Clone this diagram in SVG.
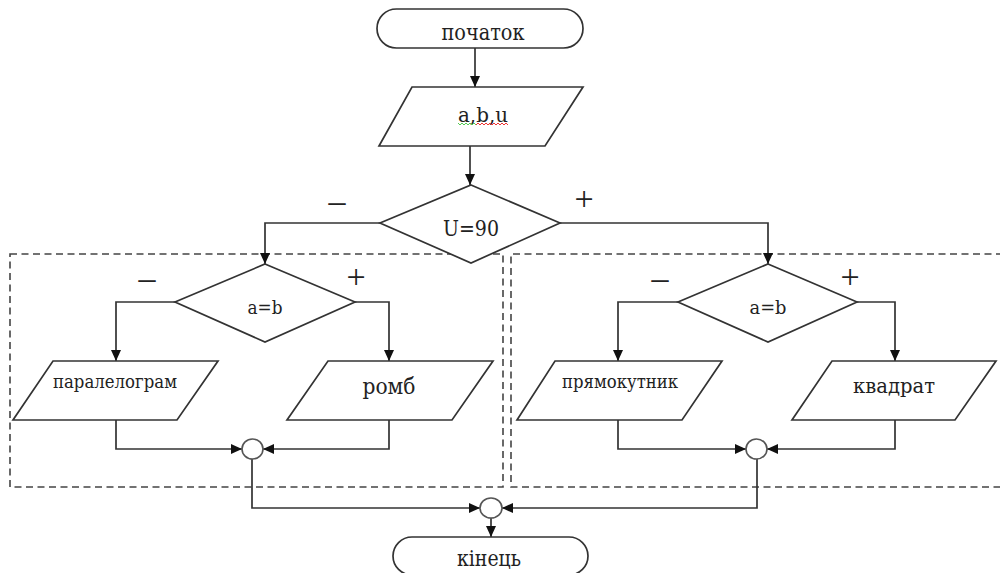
<svg xmlns="http://www.w3.org/2000/svg" width="1000" height="573" viewBox="0 0 1000 573">
<style>
.s{fill:#fff;stroke:#333;stroke-width:1.7}
.c{fill:none;stroke:#333;stroke-width:1.7}
.d{fill:none;stroke:#444;stroke-width:1.6;stroke-dasharray:7 4.5}
.t{font-family:"DejaVu Serif","Liberation Serif",serif;fill:#222;text-anchor:middle}
.p{font-family:"Liberation Serif","DejaVu Serif",serif;fill:#222;text-anchor:middle;font-size:34px}
.j{fill:#fff;stroke:#555;stroke-width:1.6}
</style>
<defs>
<marker id="ah" markerUnits="userSpaceOnUse" markerWidth="11" markerHeight="10" refX="11" refY="5" orient="auto" viewBox="0 0 11 10">
<path d="M0,0 L11,5 L0,10 z" fill="#111"/>
</marker>
</defs>
<rect width="1000" height="573" fill="#fff"/>
<g id="groups">
<rect class="d" x="10" y="254" width="493" height="233"/>
<path class="d" d="M1003,254 H511 V487 H1003"/>
</g>
<g id="connectors">
<path class="c" d="M475,48 V87" marker-end="url(#ah)"/>
<path class="c" d="M470,146 V185" marker-end="url(#ah)"/>
<path class="c" d="M380,223 H265 V264" marker-end="url(#ah)"/>
<path class="c" d="M560,223 H768 V264" marker-end="url(#ah)"/>
<path class="c" d="M175,302 H116 V361" marker-end="url(#ah)"/>
<path class="c" d="M355,302 H389 V361" marker-end="url(#ah)"/>
<path class="c" d="M678,302 H618 V361" marker-end="url(#ah)"/>
<path class="c" d="M857,302 H895 V361" marker-end="url(#ah)"/>
<path class="c" d="M116,420 V449 H242" marker-end="url(#ah)"/>
<path class="c" d="M389,420 V449 H263" marker-end="url(#ah)"/>
<path class="c" d="M618,420 V449 H746" marker-end="url(#ah)"/>
<path class="c" d="M895,420 V449 H767" marker-end="url(#ah)"/>
<path class="c" d="M252,459 V508 H480" marker-end="url(#ah)"/>
<path class="c" d="M757,459 V508 H502" marker-end="url(#ah)"/>
<path class="c" d="M491,518 V537" marker-end="url(#ah)"/>
</g>
<g id="start">
<rect class="s" x="377" y="9" width="206" height="39" rx="19.5"/>
<text class="t" x="483" y="40" font-size="22" textLength="83" lengthAdjust="spacingAndGlyphs">початок</text>
</g>
<g id="input">
<polygon class="s" points="412,87 583,87 545,146 379,146"/>
<text class="t" x="483" y="122" font-size="21" textLength="50" lengthAdjust="spacingAndGlyphs">a,b,u</text>
<path d="M458 123 l2 2 l2 -2 l2 2 l2 -2 l2 2 l2 -2 l2 2 l2 -2 l2 2" fill="none" stroke="#5c5" stroke-width="1"/>
<path d="M476 125 l2 -2 l2 2 l2 -2 l2 2 l2 -2 l2 2 l2 -2 l2 2 l2 -2 l2 2 l2 -2 l2 2 l2 -2 l2 2 l2 -2 l2 2" fill="none" stroke="#e33" stroke-width="1"/>
</g>
<g id="cond-u">
<polygon class="s" points="471,185 560,223 471,263 380,223"/>
<text class="t" x="471" y="236" font-size="22" textLength="56" lengthAdjust="spacingAndGlyphs">U=90</text>
<text class="p" x="337" y="212">–</text>
<text class="p" x="584" y="210">+</text>
</g>
<g id="cond-left">
<polygon class="s" points="265,264 355,302 265,342 175,302"/>
<text class="t" x="265" y="314" font-size="19" textLength="35" lengthAdjust="spacingAndGlyphs">a=b</text>
<text class="p" x="147" y="289">–</text>
<text class="p" x="356" y="288">+</text>
</g>
<g id="cond-right">
<polygon class="s" points="768,264 857,302 768,342 678,302"/>
<text class="t" x="768" y="314" font-size="19" textLength="37" lengthAdjust="spacingAndGlyphs">a=b</text>
<text class="p" x="660" y="289">–</text>
<text class="p" x="850" y="288">+</text>
</g>
<g id="out-parallelogram">
<polygon class="s" points="53,361 218,361 177,420 13,420"/>
<text class="t" x="115" y="388" font-size="18" textLength="124" lengthAdjust="spacingAndGlyphs">паралелограм</text>
</g>
<g id="out-rhombus">
<polygon class="s" points="328,361 493,361 452,420 287,420"/>
<text class="t" x="389" y="394" font-size="22" textLength="53" lengthAdjust="spacingAndGlyphs">ромб</text>
</g>
<g id="out-rectangle">
<polygon class="s" points="555,361 722,361 682,420 517,420"/>
<text class="t" x="620" y="388" font-size="18" textLength="116" lengthAdjust="spacingAndGlyphs">прямокутник</text>
</g>
<g id="out-square">
<polygon class="s" points="832,361 996,361 955,420 792,420"/>
<text class="t" x="894" y="393" font-size="21" textLength="82" lengthAdjust="spacingAndGlyphs">квадрат</text>
</g>
<g id="join-left"><ellipse class="j" cx="252.5" cy="449" rx="10.5" ry="10"/></g>
<g id="join-right"><ellipse class="j" cx="756.5" cy="449" rx="10.5" ry="10"/></g>
<g id="join-bottom"><ellipse class="j" cx="491" cy="508" rx="11" ry="10"/></g>
<g id="end">
<rect class="s" x="393" y="537" width="195" height="38" rx="19"/>
<text class="t" x="489" y="566" font-size="22" textLength="64" lengthAdjust="spacingAndGlyphs">кінець</text>
</g>
</svg>
